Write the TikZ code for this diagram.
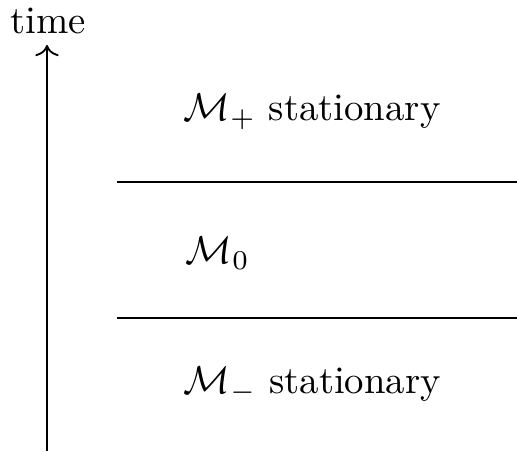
\documentclass[tikz,border=0pt]{standalone}
\usetikzlibrary{arrows.meta}
\begin{document}
\begin{tikzpicture}[x=0.267pt,y=-0.267pt,
  lbl/.style={anchor=west,inner sep=0pt,scale=1.035},
  sep/.style={line width=0.45pt}]
\useasboundingbox (0,0) rectangle (517,452);
\node[inner sep=0pt,scale=1.035] (time) at (48,21) {time};
\coordinate (bot) at (47,451);
\coordinate (top) at (47,45);
\draw[-{To[scale=1.1]},line width=0.5pt] (bot) -- (top);
\coordinate (l1a) at (117,182);
\coordinate (l1b) at (517,182);
\coordinate (l2a) at (117,318);
\coordinate (l2b) at (517,318);
\draw[sep] (l1a) -- (l1b);
\draw[sep] (l2a) -- (l2b);
\node[lbl] (mp) at (183,112) {$\mathcal{M}_+$ stationary};
\node[lbl] (m0) at (185,253) {$\mathcal{M}_0$};
\node[lbl] (mm) at (183,385) {$\mathcal{M}_-$ stationary};
\end{tikzpicture}
\end{document}
